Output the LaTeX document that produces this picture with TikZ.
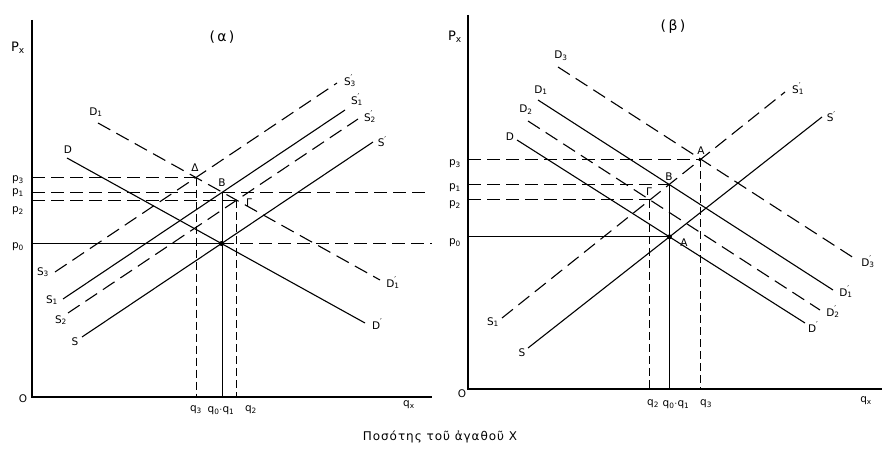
\documentclass[tikz,border=0pt]{standalone}
\usepackage{fontspec}
\setmainfont{DejaVu Sans}
\newfontfamily\capfont[LetterSpace=8]{DejaVu Sans}
\newcommand\prm{\raisebox{0.75ex}{\fontsize{8}{8}\selectfont ′}}
\newcommand\lbp[2]{#1\rlap{\prm}\textsubscript{#2}}
\newcommand\lbs[2]{#1\textsubscript{#2}}
\newcommand\lbq[1]{#1\prm}
\begin{document}
\begin{tikzpicture}[x=1pt,y=-1pt,
  ax/.style={line width=1.1pt},
  sol/.style={line width=1.1pt},
  dsh/.style={line width=1.1pt,dash pattern=on 14pt off 7pt},
  gd/.style={line width=0.9pt,dash pattern=on 13pt off 6pt},
  vd/.style={line width=0.9pt,dash pattern=on 8pt off 4pt},
  lb/.style={inner sep=0pt,font=\fontsize{10.5}{12}\selectfont},
  dotmark/.style={circle,fill,inner sep=0pt,minimum size=5pt}]
\useasboundingbox (0,0) rectangle (884,449);

% ---------------- panel alpha ----------------
\coordinate (oa) at (32,397);
\coordinate (ya) at (32,20);
\coordinate (xa) at (432,397);
\coordinate (pe) at (428,397);
\draw[ax] (ya) -- (oa) -- (xa);

\coordinate (Da1) at (67,158);  \coordinate (Da2) at (365,323);
\coordinate (D1a1) at (98,123); \coordinate (D1a2) at (380,280);
\coordinate (Sa1) at (82,337);  \coordinate (Sa2) at (373,142);
\coordinate (S2a1) at (68,313); \coordinate (S2a2) at (358,119);
\coordinate (S1a1) at (63,299); \coordinate (S1a2) at (345,110);
\coordinate (S3a1) at (55,272); \coordinate (S3a2) at (337,83);

\coordinate (Aa) at (intersection of Da1--Da2 and Sa1--Sa2);
\coordinate (Ba) at (intersection of D1a1--D1a2 and S1a1--S1a2);
\coordinate (Dla) at (intersection of D1a1--D1a2 and S3a1--S3a2);
\coordinate (Ga) at (intersection of D1a1--D1a2 and S2a1--S2a2);

\draw[sol] (Da1) -- (Da2);
\draw[dsh] (D1a1) -- (D1a2);
\draw[sol] (Sa1) -- (Sa2);
\draw[dsh] (S2a1) -- (S2a2);
\draw[sol] (S1a1) -- (S1a2);
\draw[dsh] (S3a1) -- (S3a2);

\draw[gd] (Dla -| oa) -- (Dla);
\draw[gd] (Ba -| oa) -- (Ba -| pe);
\draw[gd] (Ga -| oa) -- (Ga);
\draw[sol] (Aa -| oa) -- (Aa);
\draw[gd] (Aa) -- (Aa -| xa);
\draw[vd] (Dla) -- (Dla |- oa);
\draw[sol] (Ba) -- (Ba |- oa);
\draw[vd] (Ga) -- (Ga |- oa);
\node[dotmark] (Aadot) at (Aa) {};

\node[lb] (ta) at (222,37) {\fontsize{14}{16}\selectfont (\,α\,)};
\node[lb] (pxa) at (18,48) {\fontsize{13}{15}\selectfont P\textsubscript{x}};
\node[lb] (p3a) at (18,180) {p\textsubscript{3}};
\node[lb] (p1a) at (18,193) {p\textsubscript{1}};
\node[lb] (p2a) at (18,211) {p\textsubscript{2}};
\node[lb] (p0a) at (18,247) {p\textsubscript{0}};
\node[lb] (Oa) at (23,399) {O};
\node[lb] (q3a) at (196,410) {q\textsubscript{3}};
\node[lb] (q01a) at (221,411) {q\textsubscript{0}$\cdot$q\textsubscript{1}};
\node[lb] (q2a) at (251,410) {q\textsubscript{2}};
\node[lb] (qxa) at (409,405) {q\textsubscript{x}};
\node[lb] (lDla) at (195,168) {Δ};
\node[lb] (lBa) at (222,183) {B};
\node[lb] (lGa) at (249,203) {Γ};
\node[lb] (lDa) at (68,150) {D};
\node[lb] (lD1a) at (96,112) {\lbs{D}{1}};
\node[lb] (lDpa) at (377,324) {\lbq{D}};
\node[lb] (lD1pa) at (393,283) {\lbp{D}{1}};
\node[lb] (lSa) at (75,342) {S};
\node[lb] (lS2a) at (61,320) {\lbs{S}{2}};
\node[lb] (lS1a) at (52,300) {\lbs{S}{1}};
\node[lb] (lS3a) at (43,272) {\lbs{S}{3}};
\node[lb] (lS3pa) at (350,81) {\lbp{S}{3}};
\node[lb] (lS1pa) at (357,100) {\lbp{S}{1}};
\node[lb] (lS2pa) at (370,117) {\lbp{S}{2}};
\node[lb] (lSpa) at (382,142) {\lbq{S}};

% ---------------- panel beta ----------------
\coordinate (ob) at (468,389);
\coordinate (yb) at (468,15);
\coordinate (xb) at (882,389);
\draw[ax] (yb) -- (ob) -- (xb);

\coordinate (Db1) at (517,140);  \coordinate (Db2) at (805,323);
\coordinate (D2b1) at (528,121); \coordinate (D2b2) at (820,310);
\coordinate (D1b1) at (538,100); \coordinate (D1b2) at (833,290);
\coordinate (D3b1) at (558,67);  \coordinate (D3b2) at (857,260);
\coordinate (Sb1) at (528,348);  \coordinate (Sb2) at (822,117);
\coordinate (S1b1) at (502,318); \coordinate (S1b2) at (785,92);

\coordinate (Ab) at (intersection of Db1--Db2 and Sb1--Sb2);
\coordinate (Bb) at (intersection of D1b1--D1b2 and S1b1--S1b2);
\coordinate (Gb) at (intersection of D2b1--D2b2 and S1b1--S1b2);
\coordinate (Atb) at (intersection of D3b1--D3b2 and S1b1--S1b2);

\draw[sol] (Db1) -- (Db2);
\draw[dsh] (D2b1) -- (D2b2);
\draw[sol] (D1b1) -- (D1b2);
\draw[dsh] (D3b1) -- (D3b2);
\draw[sol] (Sb1) -- (Sb2);
\draw[dsh] (S1b1) -- (S1b2);

\draw[gd] (Atb -| ob) -- (Atb);
\draw[gd] (Bb -| ob) -- (Bb);
\draw[gd] (Gb -| ob) -- (Gb);
\draw[sol] (Ab -| ob) -- (Ab);
\draw[vd] (Gb) -- (Gb |- ob);
\draw[sol] (Bb) -- (Bb |- ob);
\draw[vd] (Atb) -- (Atb |- ob);
\node[dotmark] (Abdot) at (Ab) {};

\node[lb] (tb) at (673,27) {\fontsize{14}{16}\selectfont (\,β\,)};
\node[lb] (pxb) at (455,37) {\fontsize{13}{15}\selectfont P\textsubscript{x}};
\node[lb] (p3b) at (455,164) {p\textsubscript{3}};
\node[lb] (p1b) at (455,188) {p\textsubscript{1}};
\node[lb] (p2b) at (455,205) {p\textsubscript{2}};
\node[lb] (p0b) at (455,243) {p\textsubscript{0}};
\node[lb] (Ob) at (462,394) {O};
\node[lb] (q2b) at (653,404) {q\textsubscript{2}};
\node[lb] (q01b) at (676,405) {q\textsubscript{0}$\cdot$q\textsubscript{1}};
\node[lb] (q3b) at (706,404) {q\textsubscript{3}};
\node[lb] (qxb) at (866,401) {q\textsubscript{x}};
\node[lb] (lAtb) at (701,151) {A};
\node[lb] (lBb) at (669,177) {B};
\node[lb] (lGb) at (649,192) {Γ};
\node[lb] (lAb) at (684,243) {A};
\node[lb] (lD3b) at (561,56) {\lbs{D}{3}};
\node[lb] (lD1b) at (541,90) {\lbs{D}{1}};
\node[lb] (lD2b) at (526,110) {\lbs{D}{2}};
\node[lb] (lDb) at (510,137) {D};
\node[lb] (lS1pb) at (798,89) {\lbp{S}{1}};
\node[lb] (lSpb) at (831,117) {\lbq{S}};
\node[lb] (lD3pb) at (868,262) {\lbp{D}{3}};
\node[lb] (lD1pb) at (846,292) {\lbp{D}{1}};
\node[lb] (lD2pb) at (833,312) {\lbp{D}{2}};
\node[lb] (lDpb) at (813,327) {\lbq{D}};
\node[lb] (lS1b) at (493,322) {\lbs{S}{1}};
\node[lb] (lSb) at (522,353) {S};

\node[font=\capfont\fontsize{12}{14}\selectfont] (cap) at (440,437) {Ποσότης τοῦ ἀγαθοῦ X};
\end{tikzpicture}
\end{document}
